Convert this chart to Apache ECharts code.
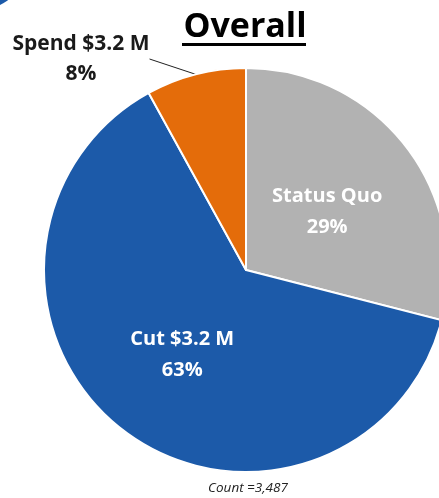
<!DOCTYPE html>
<html>
<head>
<meta charset="utf-8">
<script src="https://cdn.jsdelivr.net/npm/echarts@6/dist/echarts.min.js"></script>
<style>
  html, body { margin: 0; padding: 0; background: #fff; }
  #chart { width: 439px; height: 498px; }
</style>
</head>
<body>
<div id="chart"></div>
<script>
  var categories = ['Status Quo', 'Cut $3.2 M', 'Spend $3.2 M'];
  var shares = [29, 63, 8];
  var colors = ['#B2B2B2', '#1C5AA9', '#E46C0A'];
  var countText = 'Count =3,487';

  var FONT = '"Open Sans", sans-serif';

  var pieData = categories.map(function (name, i) {
    var item = { name: name, value: shares[i], itemStyle: { color: colors[i] } };
    if (i === 2) {
      item.label = {
        position: 'outside',
        color: '#1a1a1a',
        fontSize: 21,
        lineHeight: 30
      };
      item.labelLine = { show: true, length: 12, length2: 0, lineStyle: { color: '#222', width: 1 } };
    }
    return item;
  });

  var chart = echarts.init(document.getElementById('chart'));
  chart.setOption({
    backgroundColor: '#fff',
    animation: false,
    title: {
      text: 'Overall',
      left: 240,
      textAlign: 'center',
      top: 5,
      textStyle: { fontFamily: FONT, fontWeight: 'bold', fontSize: 34, color: '#000' }
    },
    graphic: [
      { type: 'rect', shape: { x: 182, y: 43, width: 124, height: 3 }, style: { fill: '#000' } },
      { type: 'text', x: 248, y: 488,
        style: { text: countText, fontFamily: FONT, fontStyle: 'italic', fontSize: 13.5, fill: '#222',
                 align: 'center', verticalAlign: 'middle' } },
      { type: 'circle', shape: { cx: -40, cy: -70, r: 85 }, style: { fill: '#1C5AA9' } }
    ],
    series: [{
      type: 'pie',
      center: [246, 270],
      radius: [0, 202],
      startAngle: 90,
      clockwise: true,
      avoidLabelOverlap: false,
      itemStyle: { borderColor: '#fff', borderWidth: 2 },
      label: {
        show: true,
        position: 'inside',
        formatter: '{b}\n{c}%',
        color: '#fff',
        fontFamily: FONT,
        fontWeight: 'bold',
        fontSize: 20,
        lineHeight: 31
      },
      labelLine: { show: false },
      labelLayout: function (p) {
        if (p.dataIndex === 2) {
          return { x: 81, y: 59, align: 'center', verticalAlign: 'middle' };
        }
        if (p.dataIndex === 0) {
          return { dx: -1, dy: 6 };
        }
        return { dy: 3 };
      },
      data: pieData
    }]
  });
  window.addEventListener('resize', function () { chart.resize(); });
</script>
</body>
</html>
